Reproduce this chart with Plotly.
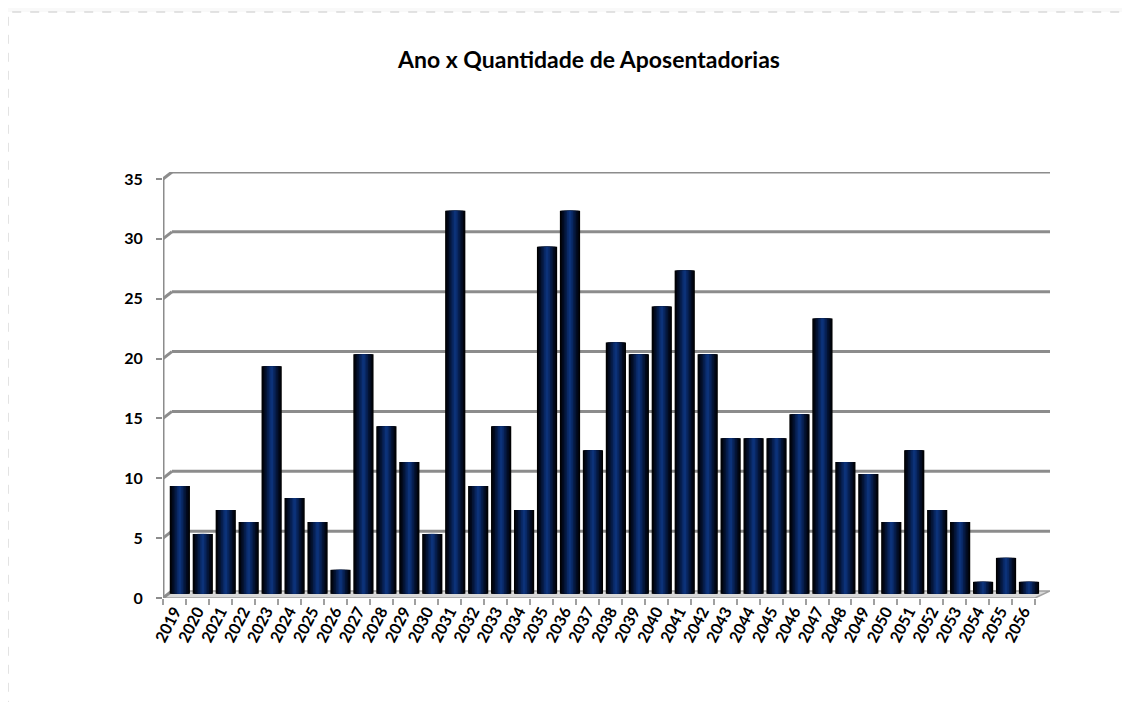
import plotly.graph_objects as go

years = [str(y) for y in range(2019, 2057)]
values = [9, 5, 7, 6, 19, 8, 6, 2, 20, 14, 11, 5, 32, 9, 14, 7, 29, 32, 12, 21,
          20, 24, 27, 20, 13, 13, 13, 15, 23, 11, 10, 6, 12, 7, 6, 1, 3, 1]
y_ticks = [0, 5, 10, 15, 20, 25, 30, 35]
title_text = "Ano x Quantidade de Aposentadorias"

FONT = "Lato"
GRID = "#8c8c8c"
n = len(years)
dx, dy = 0.39, 0.585          # 3D depth offset (data units)
x_max = n - 0.5 + 0.65
y_max = y_ticks[-1] + dy

# figure geometry (page places figure at an 8px body offset)
W, H = 1122, 694
ML, MR, MT, MB = 155, 80, 164, 104
PW, PH = W - ML - MR, H - MT - MB

fig = go.Figure()

# gradient layers (dark edges, blue centre), drawn at half the 3D depth
shift = dx * 0.6
base = dy * 0.6
layers = [(0.88, "#000000"), (0.80, "#01040c"), (0.68, "#020a1f"),
          (0.54, "#041434"), (0.40, "#061d4c"), (0.26, "#092864"),
          (0.12, "#0c3279")]
for w, c in layers:
    fig.add_trace(go.Bar(x=years, y=values, base=base, width=w, offset=-w / 2 + shift,
                         marker_color=c, marker_line_width=0,
                         hoverinfo="skip", showlegend=False))

shapes = []
# white chart area with dashed border
shapes.append(dict(type="rect", xref="paper", yref="paper",
                   x0=(0 - ML) / PW, x1=1.3, y0=-0.5, y1=(PH + MT - 4) / PH,
                   fillcolor="white", line=dict(color="#c8c8c8", width=1, dash="dash"),
                   layer="below"))
# floor
shapes.append(dict(type="path", xref="x", yref="y",
                   path=f"M -0.5,0 L {n-0.5},0 L {x_max},{dy} L {-0.5+dx},{dy} Z",
                   fillcolor="#d9d9d9", line=dict(color="#a0a0a0", width=1.5), layer="below"))
# back-wall gridlines with 3D connector
for v in y_ticks[1:]:
    shapes.append(dict(type="line", xref="x", yref="y", x0=-0.5 + dx, x1=x_max,
                       y0=v + dy, y1=v + dy, line=dict(color=GRID, width=3), layer="below"))
    shapes.append(dict(type="line", xref="x", yref="y", x0=-0.5, x1=-0.5 + dx,
                       y0=v, y1=v + dy, line=dict(color=GRID, width=3), layer="below"))
# front y-axis line
shapes.append(dict(type="line", xref="x", yref="y", x0=-0.5, x1=-0.5, y0=0, y1=y_ticks[-1],
                   line=dict(color=GRID, width=3), layer="below"))
shapes.append(dict(type="line", xref="x", yref="y", x0=-0.5, x1=-0.5 + dx, y0=0, y1=dy,
                   line=dict(color=GRID, width=3), layer="below"))

fig.update_layout(
    width=W, height=H,
    margin=dict(l=ML, r=MR, t=MT, b=MB, autoexpand=False),
    paper_bgcolor="#f9f9f9", plot_bgcolor="rgba(0,0,0,0)",
    barmode="overlay",
    shapes=shapes,
    title=dict(text=title_text, x=(589 - 8) / W, xanchor="center", xref="container",
               y=1 - (60 - 8) / H, yanchor="middle", yref="container",
               font=dict(family=FONT, size=23, color="black", weight="bold")),
    font=dict(family=FONT, color="black"),
    xaxis=dict(type="category", range=[-0.5, x_max], showgrid=False, showline=False,
               zeroline=False, ticks="outside", tickson="boundaries", ticklen=6,
               tickcolor="#a0a0a0", tickwidth=1.5, tickangle=-63,
               tickfont=dict(family=FONT, size=16, weight="bold")),
    yaxis=dict(range=[0, y_max], tickvals=y_ticks, showgrid=False, showline=False,
               zeroline=False, ticks="outside", ticklen=6, tickcolor=GRID, tickwidth=2,
               ticklabelstandoff=10,
               tickfont=dict(family=FONT, size=16, weight="bold")),
)

fig.write_html("out.html")
